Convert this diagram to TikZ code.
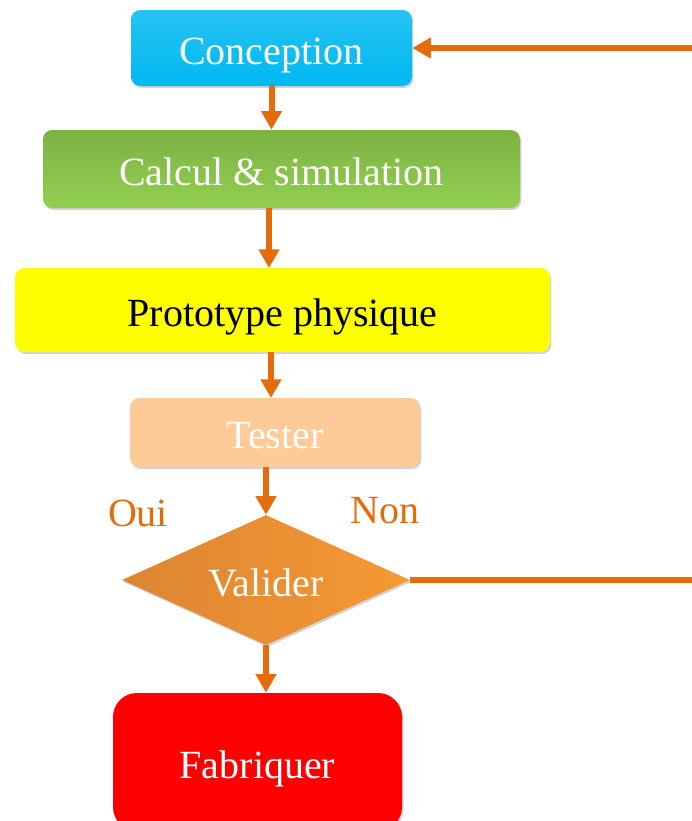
\documentclass[tikz,border=0pt]{standalone}
\usepackage{fontspec}
\setmainfont{Liberation Serif}
\usetikzlibrary{shapes.geometric}
\usetikzlibrary{arrows.meta}
\usetikzlibrary{shadows}
\definecolor{concblue}{RGB}{0,184,241}
\definecolor{calcgreen}{RGB}{146,208,80}
\definecolor{protoyellow}{RGB}{255,255,0}
\definecolor{testpeach}{RGB}{253,202,152}
\definecolor{valorange}{RGB}{245,148,55}
\definecolor{fabred}{RGB}{255,0,0}
\definecolor{flowline}{RGB}{228,108,10}
\tikzset{box/.style={rectangle,rounded corners=7pt,inner sep=0pt,
             font=\fontsize{30}{30}\selectfont,text=white,
             text height=27pt,text depth=3pt,
             drop shadow={opacity=0.35,shadow xshift=1pt,shadow yshift=-1.5pt}},
         decision/.style={diamond,aspect=2.2,inner sep=0pt,
             font=\fontsize{30}{30}\selectfont,text=white,
             text height=27pt,text depth=3pt,
             drop shadow={opacity=0.35,shadow xshift=1pt,shadow yshift=-1.5pt}},
         answer/.style={font=\fontsize{30}{30}\selectfont,text=flowline},
         flow/.style={draw=flowline,line width=4.5pt,
             -{Triangle[length=14pt,width=15pt]}},
         }

\begin{document}
\begin{tikzpicture}[x=0.75pt,y=-0.75pt]
\useasboundingbox (0,0) rectangle (692,821);
\node[box,minimum width=210.75pt,minimum height=57pt,
      top color=concblue!85!white,bottom color=concblue] (conc) at (271.5,48) {Conception};
\node[box,minimum width=357.75pt,minimum height=58.5pt,
      top color=calcgreen!85!black,bottom color=calcgreen] (calc) at (281.5,169) {Calcul \& simulation};
\node[box,minimum width=401.25pt,minimum height=63pt,text=black,
      fill=protoyellow] (proto) at (282.5,310) {Prototype physique};
\node[box,minimum width=217.5pt,minimum height=51.75pt,
      fill=testpeach] (test) at (275,432.5) {Tester};
\node[decision,minimum width=216pt,minimum height=97.5pt,
      left color=valorange!90!black,right color=valorange!95!yellow] (val) at (266,580) {Valider};
\node[box,rounded corners=18pt,minimum width=216.75pt,minimum height=103.5pt,
      fill=fabred] (fab) at (257.5,762) {Fabriquer};
\node[answer] (oui) at (138,513) {Oui};
\node[answer] (non) at (385,511) {Non};
% the return line leaves the page on the right
\coordinate (retlow) at (710,580);
\coordinate (rethigh) at (710,48);
\draw[flow] (conc.south) -- (conc.south |- calc.north);
\draw[flow] (269,208) -- (269,268);
\draw[flow] (271,352) -- (271,398);
\draw[flow] (val.north |- test.south) -- (val.north);
\draw[flow] (val.south) -- (val.south |- fab.north);
\draw[flow] (val.east) -- (retlow) -- (rethigh) -- (conc.east);
\end{tikzpicture}
\end{document}
